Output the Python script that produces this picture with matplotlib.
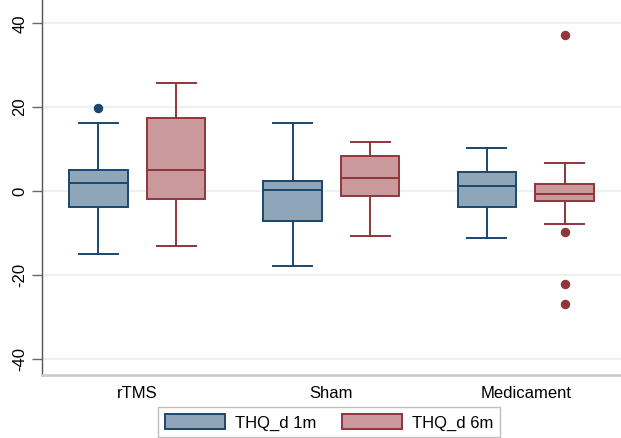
import matplotlib
matplotlib.use("Agg")
import matplotlib.pyplot as plt
from matplotlib.patches import Patch

plt.rcParams['font.family'] = ['Liberation Sans', 'DejaVu Sans']

categories = ["rTMS", "Sham", "Medicament"]
series = ["THQ_d 1m", "THQ_d 6m"]

# box statistics per series, per category
whislo = {"THQ_d 1m": [-15.0, -17.8, -11.1], "THQ_d 6m": [-13.0, -10.8, -7.9]}
q1     = {"THQ_d 1m": [-3.9, -7.2, -3.7],    "THQ_d 6m": [-2.0, -1.1, -2.5]}
med    = {"THQ_d 1m": [1.8, 0.3, 1.3],       "THQ_d 6m": [5.1, 3.2, -0.7]}
q3     = {"THQ_d 1m": [4.9, 2.4, 4.5],       "THQ_d 6m": [17.3, 8.4, 1.7]}
whishi = {"THQ_d 1m": [16.2, 16.2, 10.2],    "THQ_d 6m": [25.8, 11.8, 6.7]}
fliers = {"THQ_d 1m": [[19.7], [], []],      "THQ_d 6m": [[], [], [37.1, -9.7, -22.2, -27.0]]}

yticks = [-40, -20, 0, 20, 40]

edge_colors = {"THQ_d 1m": "#1a476f", "THQ_d 6m": "#90353b"}
fill_colors = {"THQ_d 1m": "#8ea5ba", "THQ_d 6m": "#c9999c"}
offsets = {"THQ_d 1m": -0.2, "THQ_d 6m": 0.2}

W, H = 621, 438
fig = plt.figure(figsize=(W / 100, H / 100), dpi=100)
ax = fig.add_axes([41.5 / W, 1 - 375 / H, (621 - 41.5) / W, 375 / H])

for s in series:
    stats = []
    for i in range(len(categories)):
        stats.append(dict(med=med[s][i], q1=q1[s][i], q3=q3[s][i],
                          whislo=whislo[s][i], whishi=whishi[s][i],
                          fliers=fliers[s][i]))
    ec = edge_colors[s]
    ax.bxp(stats, positions=[i + offsets[s] for i in range(len(categories))],
           widths=0.30, patch_artist=True, manage_ticks=False,
           boxprops=dict(facecolor=fill_colors[s], edgecolor=ec, linewidth=1.4),
           medianprops=dict(color=ec, linewidth=1.4),
           whiskerprops=dict(color=ec, linewidth=1.4),
           capprops=dict(color=ec, linewidth=1.4),
           capwidths=0.2,
           flierprops=dict(marker='o', markerfacecolor=ec, markeredgecolor=ec,
                           markersize=5.8, linestyle='none'))

ax.set_xlim(-0.493, 2.4907)
ax.set_ylim(-43.89, 45.56)
ax.set_yticks(yticks)
ax.set_yticklabels([str(t) for t in yticks], rotation=90, va='center', fontsize=12)
ax.set_xticks(range(len(categories)))
ax.set_xticklabels(categories, fontsize=12)
ax.tick_params(axis='x', length=0, pad=8)
ax.tick_params(axis='y', length=7, color='#666666', width=1, pad=3)
ax.yaxis.grid(True, color='#e8eff1', linewidth=1.2)
ax.set_axisbelow(True)
for sp in ['top', 'right']:
    ax.spines[sp].set_visible(False)
ax.spines['left'].set_color('#555555')
ax.spines['left'].set_linewidth(1)
ax.spines['bottom'].set_color('#cccccc')
ax.spines['bottom'].set_linewidth(2)

handles = [Patch(facecolor=fill_colors[s], edgecolor=edge_colors[s], linewidth=1.4, label=s)
           for s in series]
leg = fig.legend(handles=handles, loc='upper left', bbox_to_anchor=(158.3 / W, 1 - 407.3 / H),
                 ncol=2, frameon=True, fancybox=False, fontsize=12,
                 handlelength=3.6, handleheight=1.05, handletextpad=0.6,
                 columnspacing=1.55, borderpad=0.4, borderaxespad=0)
leg.get_frame().set_edgecolor('#b0b0b0')
leg.get_frame().set_linewidth(1)

fig.savefig("out.png", dpi=100)
